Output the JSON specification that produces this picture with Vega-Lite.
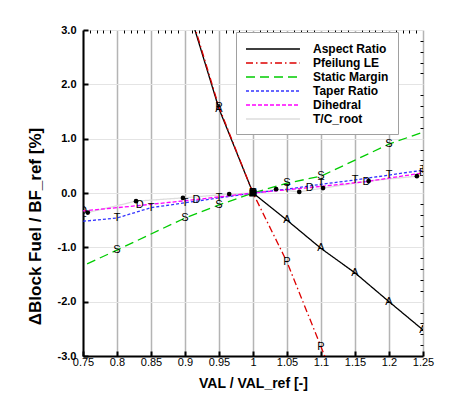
{
  "$schema": "https://vega.github.io/schema/vega-lite/v6.json",
  "width": 340,
  "height": 326,
  "autosize": {"type": "none"},
  "padding": {"left": 83, "top": 30, "right": 31, "bottom": 47},
  "background": "white",
  "config": {
    "view": {"stroke": null},
    "font": "Liberation Sans",
    "legend": {
      "orient": "none",
      "legendX": 153,
      "legendY": 2,
      "strokeColor": "#a0a0a0",
      "fillColor": "white",
      "padding": 9,
      "labelFont": "Liberation Sans",
      "labelFontWeight": "bold",
      "labelFontSize": 12,
      "labelColor": "black",
      "symbolType": "M-1,0H6.71",
      "symbolSize": 196,
      "rowPadding": 0,
      "labelOffset": 52
    }
  },
  "datasets": {
    "curves": [
      {"series": "T/C_root", "val": 0.757, "dbf": -0.36},
      {"series": "T/C_root", "val": 0.828, "dbf": -0.15},
      {"series": "T/C_root", "val": 0.897, "dbf": -0.09},
      {"series": "T/C_root", "val": 0.965, "dbf": -0.02},
      {"series": "T/C_root", "val": 1.0, "dbf": 0},
      {"series": "T/C_root", "val": 1.034, "dbf": 0.07},
      {"series": "T/C_root", "val": 1.068, "dbf": 0.02},
      {"series": "T/C_root", "val": 1.103, "dbf": 0.09},
      {"series": "T/C_root", "val": 1.17, "dbf": 0.22},
      {"series": "T/C_root", "val": 1.241, "dbf": 0.31},
      {"series": "Aspect Ratio", "val": 0.9, "dbf": 3.6},
      {"series": "Aspect Ratio", "val": 0.95, "dbf": 1.55},
      {"series": "Aspect Ratio", "val": 1.0, "dbf": 0},
      {"series": "Aspect Ratio", "val": 1.05, "dbf": -0.5},
      {"series": "Aspect Ratio", "val": 1.1, "dbf": -1.02},
      {"series": "Aspect Ratio", "val": 1.15, "dbf": -1.47},
      {"series": "Aspect Ratio", "val": 1.2, "dbf": -2.0},
      {"series": "Aspect Ratio", "val": 1.25, "dbf": -2.52},
      {"series": "Pfeilung LE", "val": 0.9, "dbf": 3.65},
      {"series": "Pfeilung LE", "val": 0.95, "dbf": 1.58},
      {"series": "Pfeilung LE", "val": 1.0, "dbf": 0},
      {"series": "Pfeilung LE", "val": 1.05, "dbf": -1.27},
      {"series": "Pfeilung LE", "val": 1.1, "dbf": -2.83},
      {"series": "Pfeilung LE", "val": 1.15, "dbf": -4.4},
      {"series": "Static Margin", "val": 0.7, "dbf": -1.63},
      {"series": "Static Margin", "val": 0.8, "dbf": -1.05},
      {"series": "Static Margin", "val": 0.9, "dbf": -0.46},
      {"series": "Static Margin", "val": 0.95, "dbf": -0.22},
      {"series": "Static Margin", "val": 1.0, "dbf": 0},
      {"series": "Static Margin", "val": 1.05, "dbf": 0.18},
      {"series": "Static Margin", "val": 1.1, "dbf": 0.31},
      {"series": "Static Margin", "val": 1.2, "dbf": 0.9},
      {"series": "Static Margin", "val": 1.3, "dbf": 1.34},
      {"series": "Taper Ratio", "val": 0.75, "dbf": -0.52},
      {"series": "Taper Ratio", "val": 0.8, "dbf": -0.46},
      {"series": "Taper Ratio", "val": 0.85, "dbf": -0.27},
      {"series": "Taper Ratio", "val": 0.9, "dbf": -0.18},
      {"series": "Taper Ratio", "val": 0.95, "dbf": -0.09},
      {"series": "Taper Ratio", "val": 1.0, "dbf": 0},
      {"series": "Taper Ratio", "val": 1.05, "dbf": 0.07},
      {"series": "Taper Ratio", "val": 1.1, "dbf": 0.16},
      {"series": "Taper Ratio", "val": 1.15, "dbf": 0.24},
      {"series": "Taper Ratio", "val": 1.2, "dbf": 0.33},
      {"series": "Taper Ratio", "val": 1.25, "dbf": 0.42},
      {"series": "Dihedral", "val": 0.75, "dbf": -0.33},
      {"series": "Dihedral", "val": 0.8333, "dbf": -0.23},
      {"series": "Dihedral", "val": 0.9167, "dbf": -0.12},
      {"series": "Dihedral", "val": 1.0, "dbf": 0},
      {"series": "Dihedral", "val": 1.0833, "dbf": 0.1},
      {"series": "Dihedral", "val": 1.1667, "dbf": 0.21},
      {"series": "Dihedral", "val": 1.25, "dbf": 0.37}
    ]
  },
  "data": {"name": "curves"},
  "resolve": {"axis": {"x": "independent", "y": "independent"}},
  "layer": [
    {
      "mark": {"type": "line", "clip": true},
      "encoding": {
        "x": {
          "field": "val", "type": "quantitative",
          "scale": {"domain": [0.75, 1.25], "nice": false, "zero": false},
          "axis": {
            "title": "VAL / VAL_ref [-]",
            "titleFontSize": 14, "titleFontWeight": "bold", "titleColor": "black",
            "titleY": 20, "titleBaseline": "top",
            "values": [0.75, 0.8, 0.85, 0.9, 0.95, 1, 1.05, 1.1, 1.15, 1.2, 1.25],
            "format": "~g",
            "labelFontSize": 11, "labelColor": "black", "labelPadding": 5,
            "labelFlush": false,
            "tickSize": -5, "tickWidth": 2, "tickColor": "black",
            "domainColor": "black", "domainWidth": 2,
            "grid": true, "gridColor": "#b4b4b4", "gridWidth": 1.5
          }
        },
        "y": {
          "field": "dbf", "type": "quantitative",
          "scale": {"domain": [-3, 3], "nice": false, "zero": false},
          "axis": {
            "title": "ΔBlock Fuel / BF_ref [%]",
            "titleFontSize": 17, "titleFontWeight": "bold", "titleColor": "black",
            "titleX": -39, "titleY": 196,
            "values": [-3, -2, -1, 0, 1, 2, 3],
            "labelExpr": "datum.value < 0 ? '-' + format(-datum.value, '.1f') : format(datum.value, '.1f')",
            "labelFontSize": 11, "labelFontWeight": "bold", "labelColor": "black", "labelPadding": 12,
            "labelFlush": false,
            "tickSize": -5, "tickWidth": 2, "tickColor": "black",
            "domainColor": "black", "domainWidth": 2,
            "grid": true, "gridColor": "#e4e4e4", "gridWidth": 1
          }
        },
        "color": {
          "field": "series", "type": "nominal",
          "scale": {
            "domain": ["Aspect Ratio", "Pfeilung LE", "Static Margin", "Taper Ratio", "Dihedral", "T/C_root"],
            "range": ["#000000", "#dd0000", "#00cc00", "#3333ff", "#ff00ff", "#dddddd"]
          },
          "legend": {"title": null}
        },
        "strokeDash": {
          "field": "series", "type": "nominal",
          "scale": {
            "domain": ["Aspect Ratio", "Pfeilung LE", "Static Margin", "Taper Ratio", "Dihedral", "T/C_root"],
            "range": [[1, 0], [7, 3, 1.5, 3], [9, 5], [3, 2], [4, 2], [1, 0]]
          },
          "legend": {"title": null}
        },
        "strokeWidth": {
          "field": "series", "type": "nominal",
          "scale": {
            "domain": ["Aspect Ratio", "Pfeilung LE", "Static Margin", "Taper Ratio", "Dihedral", "T/C_root"],
            "range": [1.3, 1.3, 1.4, 2, 2, 3]
          },
          "legend": {"title": null}
        },
        "order": {"field": "val"}
      }
    },
    {
      "transform": [
        {"filter": "datum.series != 'T/C_root'"},
        {"calculate": "substring(datum.series, 0, 1)", "as": "sym"}
      ],
      "mark": {"type": "text", "clip": true, "fontSize": 11, "color": "black", "baseline": "middle", "align": "center"},
      "encoding": {
        "x": {
          "field": "val", "type": "quantitative",
          "axis": {
            "title": null, "labels": false, "domain": false, "grid": false,
            "values": [0.76, 0.77, 0.78, 0.79, 0.81, 0.82, 0.83, 0.84, 0.86, 0.87, 0.88, 0.89, 0.91, 0.92, 0.93, 0.94, 0.96, 0.97, 0.98, 0.99, 1.01, 1.02, 1.03, 1.04, 1.06, 1.07, 1.08, 1.09, 1.11, 1.12, 1.13, 1.14, 1.16, 1.17, 1.18, 1.19, 1.21, 1.22, 1.23, 1.24],
            "tickSize": -3, "tickWidth": 1, "tickColor": "black"
          }
        },
        "y": {
          "field": "dbf", "type": "quantitative",
          "axis": {
            "title": null, "labels": false, "domain": false, "grid": false,
            "values": [-2.8, -2.6, -2.4, -2.2, -1.8, -1.6, -1.4, -1.2, -0.8, -0.6, -0.4, -0.2, 0.2, 0.4, 0.6, 0.8, 1.2, 1.4, 1.6, 1.8, 2.2, 2.4, 2.6, 2.8],
            "tickSize": -3, "tickWidth": 1, "tickColor": "black"
          }
        },
        "text": {"field": "sym"}
      }
    },
    {
      "transform": [{"filter": "datum.series == 'T/C_root'"}],
      "mark": {"type": "point", "filled": true, "clip": true, "color": "black", "size": 22, "opacity": 1},
      "encoding": {
        "x": {"field": "val", "type": "quantitative", "axis": null},
        "y": {"field": "dbf", "type": "quantitative", "axis": null}
      }
    },
    {
      "transform": [{"filter": "datum.series == 'Aspect Ratio' && datum.val == 1"}],
      "mark": {"type": "square", "filled": true, "color": "black", "size": 50, "opacity": 1},
      "encoding": {
        "x": {"field": "val", "type": "quantitative", "axis": null},
        "y": {"field": "dbf", "type": "quantitative", "axis": null}
      }
    }
  ]
}
